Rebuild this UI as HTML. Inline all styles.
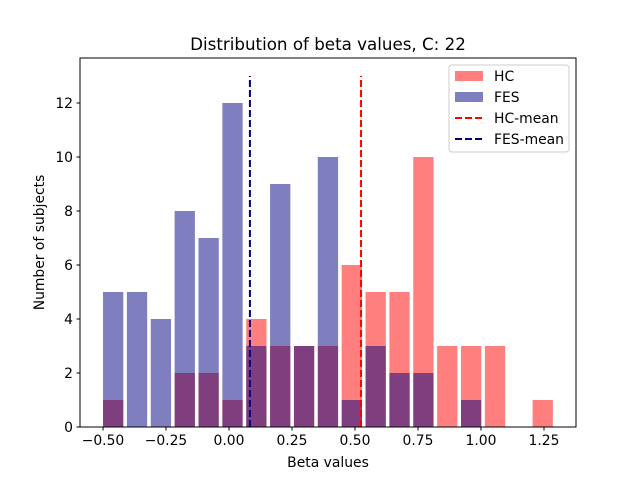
<!DOCTYPE html>
<html><head><meta charset="utf-8"><style>
body{margin:0;background:#fff;}
svg{display:block;font-family:"DejaVu Sans","Liberation Sans",sans-serif;}
</style></head><body>
<svg id="chart" width="640" height="480" viewBox="0 0 640 480" xmlns="http://www.w3.org/2000/svg">
<rect width="640" height="480" fill="#fff"/>
<g id="bars"></g>
<g id="lines"></g>
<rect x="80" y="58" width="496" height="369" fill="none" stroke="#000" stroke-width="1"/>
<g id="xt"></g>
<g id="yt"></g>
<text x="328" y="50" font-size="16.7" text-anchor="middle">Distribution of beta values, C: 22</text>
<text x="328" y="467" font-size="13.9" text-anchor="middle">Beta values</text>
<text transform="translate(44,242.5) rotate(-90)" font-size="13.9" text-anchor="middle">Number of subjects</text>
<g>
<rect x="449" y="65" width="120" height="87" rx="3" fill="#fff" fill-opacity="0.8" stroke="#ccc"/>
<rect x="455" y="71" width="28" height="10" fill="#ff0000" fill-opacity="0.5"/>
<text x="494" y="81" font-size="13.9">HC</text>
<rect x="455" y="92" width="28" height="10" fill="#000080" fill-opacity="0.5"/>
<text x="494" y="102" font-size="13.9">FES</text>
<line x1="455" y1="118" x2="483" y2="118" stroke="#ff0000" stroke-width="2" stroke-dasharray="7,3"/>
<text x="494" y="123" font-size="13.9">HC-mean</text>
<line x1="455" y1="139" x2="483" y2="139" stroke="#000080" stroke-width="2" stroke-dasharray="7,3"/>
<text x="494" y="144" font-size="13.9">FES-mean</text>
</g>
</svg>
<script>
const binStart = -0.507;
const binWidth = 0.0947;
const hcCounts = [1,0,0,2,2,1,4,3,3,3,6,5,5,10,3,3,3,0,1];
const fesCounts = [5,5,4,8,7,12,3,9,3,10,1,3,2,2,0,1,0,0,0];
const hcMean = 0.524;
const fesMean = 0.083;
const meanLineTop = 13;
const xTicks = [-0.5,-0.25,0,0.25,0.5,0.75,1.0,1.25];
const xTickLabels = ["\u22120.50","\u22120.25","0.00","0.25","0.50","0.75","1.00","1.25"];
const yTicks = [0,2,4,6,8,10,12];

const NS="http://www.w3.org/2000/svg";
function X(v){return 229+v*252;}
function Y(v){return 427-v*27;}
function mk(tag,attrs,parent){const e=document.createElementNS(NS,tag);for(const k in attrs)e.setAttribute(k,attrs[k]);parent.appendChild(e);return e;}
const bars=document.getElementById('bars');
function drawSeries(counts,color,name){
  counts.forEach((c,i)=>{
    if(c<=0)return;
    const l=binStart+i*binWidth+binWidth*0.075;
    const x=X(l), w=X(l+binWidth*0.85)-x;
    const r=mk('rect',{x:x,y:Y(c),width:w,height:Y(0)-Y(c),fill:color,'fill-opacity':0.5},bars);
    
    
  });
}
drawSeries(hcCounts,'#ff0000','hc');
drawSeries(fesCounts,'#000080','fes');
const lines=document.getElementById('lines');
[[hcMean,'#ff0000','hc-mean-line'],[fesMean,'#000080','fes-mean-line']].forEach(m=>{
  const l=mk('line',{x1:X(m[0]),x2:X(m[0]),y1:Y(0),y2:Y(meanLineTop),stroke:m[1],'stroke-width':2,'stroke-dasharray':'7,3'},lines);
  
  
});
const xt=document.getElementById('xt');
xTicks.forEach((v,i)=>{
  mk('line',{x1:X(v),x2:X(v),y1:427,y2:430.5,stroke:'#000'},xt);
  const t=mk('text',{x:X(v),y:445,'font-size':13.9,'text-anchor':'middle'},xt);
  t.textContent=xTickLabels[i];
  
  
});
const yt=document.getElementById('yt');
yTicks.forEach(v=>{
  mk('line',{x1:76.5,x2:80,y1:Y(v),y2:Y(v),stroke:'#000'},yt);
  const t=mk('text',{x:73,y:Y(v)+5,'font-size':13.9,'text-anchor':'end'},yt);
  t.textContent=String(v);
  
  
});
</script>
</body></html>
